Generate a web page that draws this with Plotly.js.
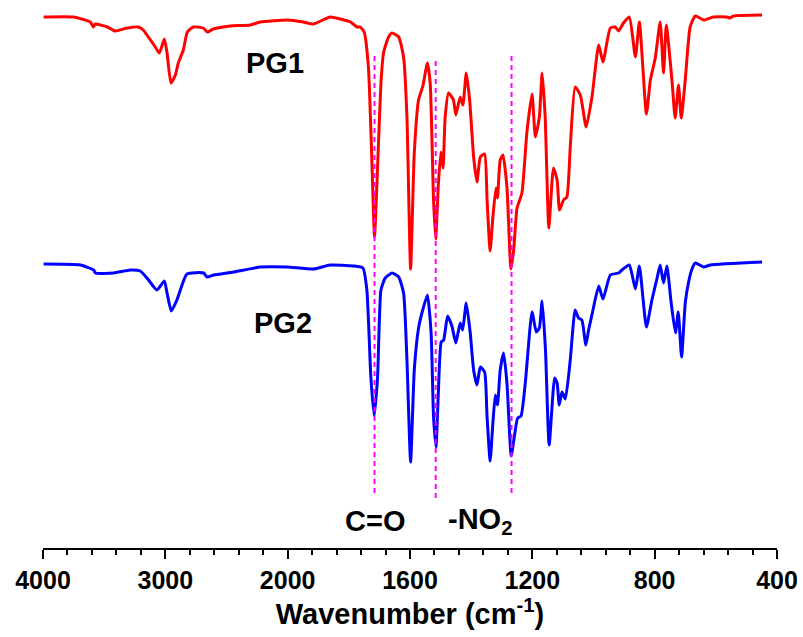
<!DOCTYPE html>
<html>
<head>
<meta charset="utf-8">
<script src="https://cdn.plot.ly/plotly-3.0.1.min.js"></script>
<style>html,body{margin:0;padding:0;background:#fff;}#chart{width:803px;height:637px;}</style>
</head>
<body>
<div id="chart"></div>
<script>
// PG1 spectrum: wavenumber (cm-1) and transmittance (a.u., offset)
const pg1Wn = [3995,3752,3613,3589,3572,3474,3409,3311,3221,3180,3139,3082,3049,3008,2986,2954,2918,2894,2853,2820,2771,2690,2657,2608,2469,2305,2224,2000,
1949,1916,1861,1828,1795,1773,1763,1750,1736,1724,1716,1706,1695,1686,1670,1659,1637,1621,1610,1598,1586,1572,1558,1543,1534,1523,1516,1507,1499,1492,1485,1474,1458,1450,1436,1427,1416,1405,1392,1381,1370,1356,1348,1338,1329,1319,1314,1305,1296,1283,1270,1261,1250,1234,1218,1201,1190,1177,1168,1158,1146,1131,1119,1111,1098,1087,1076,1060,1043,1024,1005,983,969,945,929,918,902,883,863,850,827,814,798,782,771,762,743,733,722,713,700,684,667,640,608,564,553,543,449];
const pg1T = [531,531,526,521,524,521,517,520,521,518,511,501,495,509,495,465,473,485,498,516,521,520,516,519,522,523,526,528,
526,524,531,529,526,521,521,516,481,381,311,381,465,496,511,515,511,491,431,279,395,448,462,485,465,348,309,365,396,380,431,455,448,433,451,443,475,448,391,366,391,394,348,297,331,360,350,388,393,361,279,298,340,355,415,454,411,431,475,431,320,380,368,338,348,351,401,461,453,421,451,503,486,520,521,517,525,531,491,526,434,468,490,526,475,523,466,430,463,430,468,521,532,528,531,531,530,532,533];

// PG2 spectrum
const pg2Wn = [3995,3695,3586,3572,3423,3286,3205,3150,3068,3008,2986,2951,2905,2823,2687,2659,2605,2442,2224,2006,
1915,1861,1785,1754,1741,1728,1717,1706,1695,1681,1659,1637,1621,1610,1598,1586,1572,1561,1543,1531,1523,1515,1507,1498,1490,1477,1463,1450,1436,1428,1416,1403,1392,1381,1370,1356,1348,1338,1329,1321,1314,1305,1294,1283,1269,1259,1248,1237,1223,1201,1187,1177,1168,1157,1145,1127,1119,1112,1103,1092,1076,1060,1049,1038,1025,1016,1003,983,969,945,918,907,883,863,850,827,809,792,782,771,760,746,732,723,712,700,689,678,667,640,618,449];
const pg2T = [284,283,278,275,275,278,277,270,258,267,255,237,248,274,275,271,273,276,281,281,
279,283,282,280,258,171,132,171,258,270,275,271,255,188,86,178,220,235,253,215,131,101,158,206,208,232,222,205,225,218,245,215,178,163,181,176,131,87,125,153,143,178,195,165,92,111,130,132,165,236,216,220,247,198,103,170,165,143,156,149,188,238,230,228,203,218,236,262,249,273,275,278,283,259,282,221,248,270,283,265,282,245,215,236,191,245,266,279,285,281,283,286];

// Band markers (cm-1) and their vertical extents (a.u.)
const bandWn = [1716, 1516, 1268];
const bandLo = [55, 50, 55];
const bandHi = [496, 491, 496];

// Axis ticks
const tickWn = [4000, 3000, 2000, 1600, 1200, 800, 400];
const tickLabels = ["4000", "3000", "2000", "1600", "1200", "800", "400"];

// Broken (piecewise linear) wavenumber scale: 4000-2000 compressed, 2000-400 expanded
function toU(w) { return w >= 2000 ? (4000 - w) / 1000 : 2 + (2000 - w) / 400; }

const FONT = "Liberation Sans, Arial, Helvetica, sans-serif";

const traces = [
  { x: pg1Wn.map(toU), y: pg1T, mode: "lines", line: { color: "#FF0000", width: 3, shape: "spline", smoothing: 0.5 }, hoverinfo: "skip", name: "PG1" },
  { x: pg2Wn.map(toU), y: pg2T, mode: "lines", line: { color: "#0000FF", width: 3, shape: "spline", smoothing: 0.5 }, hoverinfo: "skip", name: "PG2" }
];
bandWn.forEach((w, i) => {
  traces.push({ x: [toU(w), toU(w)], y: [bandLo[i], bandHi[i]], mode: "lines",
    line: { color: "#FF00FF", width: 2, dash: "5px,4px" }, hoverinfo: "skip", showlegend: false });
});

const annFont = { family: FONT, size: 29, color: "#000", weight: "bold" };
const layout = {
  width: 803, height: 637,
  margin: { l: 43, r: 26, t: 0, b: 89, pad: 0 },
  paper_bgcolor: "#fff", plot_bgcolor: "#fff",
  showlegend: false,
  xaxis: {
    range: [0, 6], showgrid: false, zeroline: false,
    showline: true, linecolor: "#000", linewidth: 2,
    ticks: "outside", ticklen: 9, tickwidth: 2, tickcolor: "#000",
    tickmode: "array", tickvals: tickWn.map(toU), ticktext: tickLabels,
    tickfont: { family: FONT, size: 25, color: "#000", weight: "bold" },
    minor: { dtick: 0.2, tick0: 0, ticks: "outside", ticklen: 5, tickwidth: 2, tickcolor: "#000", showgrid: false },
    title: { text: "Wavenumber (cm<sup>-1</sup>)", font: { family: FONT, size: 29, color: "#000", weight: "bold" }, standoff: 8 },
    automargin: false, fixedrange: true
  },
  yaxis: { range: [0, 548], visible: false, showgrid: false, zeroline: false, fixedrange: true },
  annotations: [
    { x: toU(2101), y: 485, text: "PG1", showarrow: false, font: annFont, xanchor: "center", yanchor: "middle" },
    { x: toU(2036), y: 225, text: "PG2", showarrow: false, font: annFont, xanchor: "center", yanchor: "middle" },
    { x: toU(1716), y: 27, text: "C=O", showarrow: false, font: annFont, xanchor: "center", yanchor: "middle" },
    { x: toU(1482), y: 27, text: "-NO<sub>2</sub>", showarrow: false, font: annFont, xanchor: "left", yanchor: "middle" }
  ]
};

Plotly.newPlot("chart", traces, layout, { displayModeBar: false, staticPlot: true });
</script>
</body>
</html>
